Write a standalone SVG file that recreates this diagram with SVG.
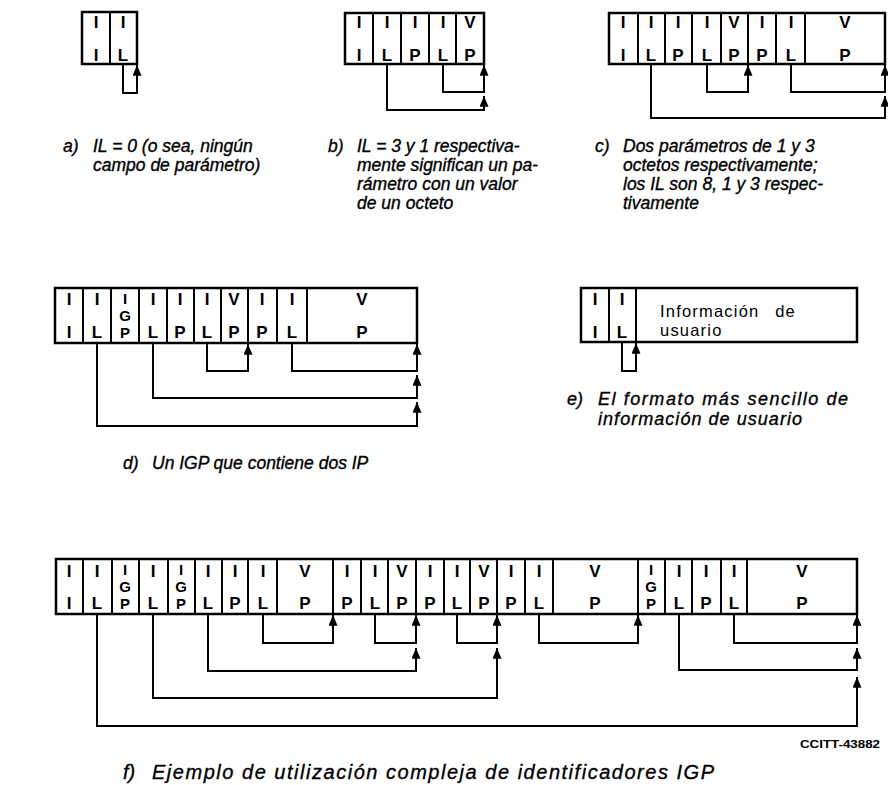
<svg xmlns="http://www.w3.org/2000/svg" width="888" height="785" viewBox="0 0 888 785">
<defs>
<marker id="ah" viewBox="0 0 12 10" refX="12" refY="5" markerWidth="12" markerHeight="9" markerUnits="userSpaceOnUse" orient="auto">
<path d="M0,0 L12,5 L0,10 z" fill="#000"/>
</marker>
</defs>
<style>
.box{fill:#fff;stroke:#000;stroke-width:2.5}
.div{stroke:#000;stroke-width:2;fill:none}
.c{font-family:"Liberation Sans",Arial,sans-serif;font-size:17px;font-weight:bold;text-anchor:middle;fill:#000}
.g{font-family:"Liberation Sans",Arial,sans-serif;font-size:15px;font-weight:bold;text-anchor:middle;fill:#000}
.cap{font-family:"Liberation Sans",Arial,sans-serif;font-size:17.5px;font-style:italic;fill:#000;stroke:#000;stroke-width:0.35}
.cape{font-family:"Liberation Sans",Arial,sans-serif;font-size:18px;font-style:italic;fill:#000;stroke:#000;stroke-width:0.35}
.capf{font-family:"Liberation Sans",Arial,sans-serif;font-size:20px;font-style:italic;fill:#000;stroke:#000;stroke-width:0.35}
.info{font-family:"Liberation Sans",Arial,sans-serif;font-size:16.5px;fill:#000;letter-spacing:1.2px;word-spacing:10px}
.con path{fill:none;stroke:#000;stroke-width:2;marker-end:url(#ah)}
.ref{font-family:"Liberation Sans",Arial,sans-serif;font-size:10px;font-weight:bold;fill:#000}
</style>
<rect width="888" height="785" fill="#fff"/>

<!-- a -->
<g id="node-a">
<rect class="box" x="82" y="12" width="55" height="52"/>
<path class="div" d="M110,12V64"/>
<text class="c" x="96" y="28">I</text><text class="c" x="96" y="61">I</text>
<text class="c" x="123" y="28">I</text><text class="c" x="123" y="61">L</text>
</g>
<g id="caption-a">
<text class="cap" x="63" y="152">a)</text>
<text class="cap" x="93" y="152">IL = 0 (o sea, ningún</text>
<text class="cap" x="93" y="171">campo de parámetro)</text>
</g>

<!-- b -->
<g id="node-b">
<rect class="box" x="345" y="13" width="139" height="51"/>
<path class="div" d="M373,13V64M401,13V64M429,13V64M456,13V64"/>
<text class="c" x="359" y="28">I</text><text class="c" x="359" y="61">I</text>
<text class="c" x="387" y="28">I</text><text class="c" x="387" y="61">L</text>
<text class="c" x="415" y="28">I</text><text class="c" x="415" y="61">P</text>
<text class="c" x="443" y="28">I</text><text class="c" x="443" y="61">L</text>
<text class="c" x="470" y="28">V</text><text class="c" x="470" y="61">P</text>
</g>
<g id="caption-b">
<text class="cap" x="328" y="152">b)</text>
<text class="cap" x="357" y="152">IL = 3 y 1 respectiva-</text>
<text class="cap" x="357" y="171">mente significan un pa-</text>
<text class="cap" x="357" y="190">rámetro con un valor</text>
<text class="cap" x="357" y="209">de un octeto</text>
</g>

<!-- c -->
<g id="node-c">
<rect class="box" x="609" y="13" width="276" height="51"/>
<path class="div" d="M638,13V64M665,13V64M692,13V64M721,13V64M748,13V64M776,13V64M805,13V64"/>
<text class="c" x="623" y="28">I</text><text class="c" x="623" y="61">I</text>
<text class="c" x="651" y="28">I</text><text class="c" x="651" y="61">L</text>
<text class="c" x="678" y="28">I</text><text class="c" x="678" y="61">P</text>
<text class="c" x="707" y="28">I</text><text class="c" x="707" y="61">L</text>
<text class="c" x="734" y="28">V</text><text class="c" x="734" y="61">P</text>
<text class="c" x="762" y="28">I</text><text class="c" x="762" y="61">P</text>
<text class="c" x="791" y="28">I</text><text class="c" x="791" y="61">L</text>
<text class="c" x="845" y="28">V</text><text class="c" x="845" y="61">P</text>
</g>
<g id="caption-c">
<text class="cap" x="595" y="152">c)</text>
<text class="cap" x="623" y="152">Dos parámetros de 1 y 3</text>
<text class="cap" x="623" y="171">octetos respectivamente;</text>
<text class="cap" x="623" y="190">los IL son 8, 1 y 3 respec-</text>
<text class="cap" x="623" y="209">tivamente</text>
</g>

<!-- d -->
<g id="node-d">
<rect class="box" x="55" y="288" width="362" height="55"/>
<path class="div" d="M83,288V343M111,288V343M139,288V343M167,288V343M194,288V343M221,288V343M248,288V343M277,288V343M307,288V343"/>
<text class="c" x="69" y="305">I</text><text class="c" x="69" y="338">I</text>
<text class="c" x="97" y="305">I</text><text class="c" x="97" y="338">L</text>
<text class="g" x="125" y="304">I</text><text class="g" x="125" y="321">G</text><text class="g" x="125" y="338">P</text>
<text class="c" x="153" y="305">I</text><text class="c" x="153" y="338">L</text>
<text class="c" x="180" y="305">I</text><text class="c" x="180" y="338">P</text>
<text class="c" x="207" y="305">I</text><text class="c" x="207" y="338">L</text>
<text class="c" x="234" y="305">V</text><text class="c" x="234" y="338">P</text>
<text class="c" x="262" y="305">I</text><text class="c" x="262" y="338">P</text>
<text class="c" x="292" y="305">I</text><text class="c" x="292" y="338">L</text>
<text class="c" x="362" y="305">V</text><text class="c" x="362" y="338">P</text>
</g>
<g id="caption-d">
<text class="cap" x="123" y="469">d)</text>
<text class="cap" x="152" y="469">Un IGP que contiene dos IP</text>
</g>

<!-- e -->
<g id="node-e">
<rect class="box" x="581" y="288" width="276" height="54"/>
<path class="div" d="M609,288V342M636,288V342"/>
<text class="c" x="595" y="305">I</text><text class="c" x="595" y="338">I</text>
<text class="c" x="622" y="305">I</text><text class="c" x="622" y="338">L</text>
<text class="info" x="660" y="317">Información de</text>
<text class="info" x="660" y="336">usuario</text>
</g>
<g id="caption-e">
<text class="cape" x="567" y="405">e)</text>
<text class="cape" x="598" y="405" textLength="250" lengthAdjust="spacing">El formato más sencillo de</text>
<text class="cape" x="598" y="425" textLength="204" lengthAdjust="spacing">información de usuario</text>
</g>

<!-- f -->
<g id="node-f">
<rect class="box" x="56" y="559" width="801" height="55"/>
<path class="div" d="M83,559V614M112,559V614M139,559V614M168,559V614M195,559V614M222,559V614M248,559V614M277,559V614M333,559V614M361,559V614M388,559V614M416,559V614M444,559V614M470,559V614M497,559V614M525,559V614M553,559V614M638,559V614M665,559V614M692,559V614M721,559V614M747,559V614"/>
<text class="c" x="69" y="577">I</text><text class="c" x="69" y="609">I</text>
<text class="c" x="97" y="577">I</text><text class="c" x="97" y="609">L</text>
<text class="g" x="125" y="575">I</text><text class="g" x="125" y="592">G</text><text class="g" x="125" y="609">P</text>
<text class="c" x="153" y="577">I</text><text class="c" x="153" y="609">L</text>
<text class="g" x="181" y="575">I</text><text class="g" x="181" y="592">G</text><text class="g" x="181" y="609">P</text>
<text class="c" x="208" y="577">I</text><text class="c" x="208" y="609">L</text>
<text class="c" x="235" y="577">I</text><text class="c" x="235" y="609">P</text>
<text class="c" x="263" y="577">I</text><text class="c" x="263" y="609">L</text>
<text class="c" x="305" y="577">V</text><text class="c" x="305" y="609">P</text>
<text class="c" x="347" y="577">I</text><text class="c" x="347" y="609">P</text>
<text class="c" x="375" y="577">I</text><text class="c" x="375" y="609">L</text>
<text class="c" x="402" y="577">V</text><text class="c" x="402" y="609">P</text>
<text class="c" x="430" y="577">I</text><text class="c" x="430" y="609">P</text>
<text class="c" x="457" y="577">I</text><text class="c" x="457" y="609">L</text>
<text class="c" x="484" y="577">V</text><text class="c" x="484" y="609">P</text>
<text class="c" x="511" y="577">I</text><text class="c" x="511" y="609">P</text>
<text class="c" x="539" y="577">I</text><text class="c" x="539" y="609">L</text>
<text class="c" x="595" y="577">V</text><text class="c" x="595" y="609">P</text>
<text class="g" x="651" y="575">I</text><text class="g" x="651" y="592">G</text><text class="g" x="651" y="609">P</text>
<text class="c" x="679" y="577">I</text><text class="c" x="679" y="609">L</text>
<text class="c" x="706" y="577">I</text><text class="c" x="706" y="609">P</text>
<text class="c" x="734" y="577">I</text><text class="c" x="734" y="609">L</text>
<text class="c" x="802" y="577">V</text><text class="c" x="802" y="609">P</text>
</g>
<g id="caption-f">
<text class="ref" x="800" y="748" textLength="80" lengthAdjust="spacingAndGlyphs">CCITT-43882</text>
<text class="capf" x="123" y="779">f)</text>
<text class="capf" x="152" y="779" textLength="562" lengthAdjust="spacing">Ejemplo de utilización compleja de identificadores IGP</text>
</g>

<g id="connectors" class="con">
<path d="M123,64V93H137V65"/>
<path d="M387,64V110H484V96"/>
<path d="M443,64V92H484V65"/>
<path d="M651,64V118H885V96"/>
<path d="M707,64V92H748V65"/>
<path d="M791,64V92H885V65"/>
<path d="M97,343V426H417V402"/>
<path d="M153,343V398H417V375"/>
<path d="M207,343V371H248V344"/>
<path d="M292,343V371H417V344"/>
<path d="M622,342V371H636V343"/>
<path d="M97,614V726H857V677"/>
<path d="M153,614V698H497V648"/>
<path d="M208,614V671H416V648"/>
<path d="M263,614V643H333V615"/>
<path d="M375,614V643H416V615"/>
<path d="M457,614V643H497V615"/>
<path d="M539,614V643H638V615"/>
<path d="M679,614V670H857V648"/>
<path d="M734,614V643H857V615"/>
</g>
</svg>
